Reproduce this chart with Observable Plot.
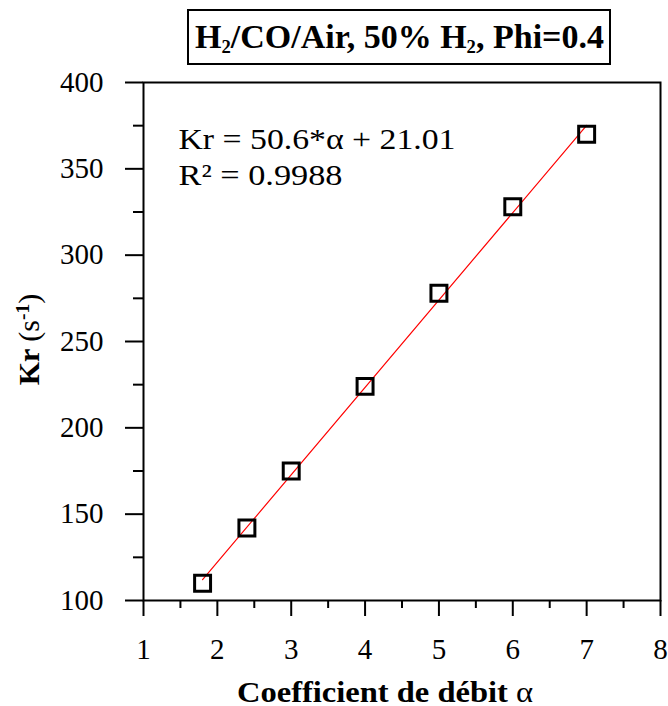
<!DOCTYPE html>
<html>
<head>
<meta charset="utf-8">
<script src="https://cdn.jsdelivr.net/npm/d3@7"></script>
<script src="https://cdn.jsdelivr.net/npm/@observablehq/plot@0.6"></script>
<style>
  body { margin: 0; background: #fff; }
  #wrap { position: relative; width: 668px; height: 706px; background: #fff; }
  #title {
    position: absolute; left: 187px; top: 9px; width: 424px; height: 56px;
    box-sizing: border-box; border: 2px solid #000;
    display: flex; align-items: center; justify-content: center;
    font-family: "Liberation Serif", "Times New Roman", serif; font-weight: bold;
    font-size: 33px; color: #000; white-space: nowrap;
  }
  #title span { display: inline-block; transform-origin: center center; }
  #title sub { font-size: 0.55em; vertical-align: -0.3em; line-height: 0; }
</style>
</head>
<body>
<div id="wrap">
  <div id="chart"></div>
  <div id="title"><span>H<sub>2</sub>/CO/Air, 50% H<sub>2</sub>, Phi=0.4</span></div>
</div>
<script>
// Data
const alpha = [1.8, 2.4, 3, 4, 5, 6, 7];
const kr = [110, 142, 175, 224, 278, 328, 370];

// Linear fit reported on the chart
const fitSlope = 50.6;
const fitIntercept = 21.01;
const fitLabel = "Kr = 50.6*α + 21.01";
const r2Label = "R² = 0.9988";

// Axes
const xTicks = [1, 2, 3, 4, 5, 6, 7, 8];
const xMinorTicks = [1.5, 2.5, 3.5, 4.5, 5.5, 6.5, 7.5];
const yTicks = [100, 150, 200, 250, 300, 350, 400];
const yMinorTicks = [125, 175, 225, 275, 325, 375];
const xLabel = "Coefficient de débit α";
const yLabel = "Kr (s-1)";

const points = alpha.map((a, i) => ({alpha: a, kr: kr[i]}));
const fitRange = [d3.min(alpha), d3.max(alpha)];
const fitLine = fitRange.map(a => ({alpha: a, kr: fitSlope * a + fitIntercept}));

const serif = '"Liberation Serif", "Times New Roman", serif';

const chart = Plot.plot({
  width: 668,
  height: 706,
  marginLeft: 143,
  marginRight: 8,
  marginTop: 82,
  marginBottom: 106,
  x: {domain: [1, 8]},
  y: {domain: [100, 400]},
  style: {fontFamily: serif, fontSize: "29px", color: "#000", background: "#fff"},
  marks: [
    Plot.axisY({ticks: yTicks, tickFormat: d => String(d), tickSize: 18, tickPadding: 22, strokeWidth: 2, label: null, fontSize: 29}),
    Plot.axisY({ticks: yMinorTicks, tickSize: 10, text: null, strokeWidth: 2, label: null}),
    Plot.axisX({ticks: xTicks, tickFormat: d => String(d), tickSize: 16, tickPadding: 22, strokeWidth: 2, label: null, fontSize: 29}),
    Plot.axisX({ticks: xMinorTicks, tickSize: 8, text: null, strokeWidth: 2, label: null}),
    Plot.frame({stroke: "#000", strokeWidth: 2}),
    Plot.line(fitLine, {x: "alpha", y: "kr", stroke: "#ff0000", strokeWidth: 1.2}),
    Plot.dot(points, {x: "alpha", y: "kr", symbol: "square", r: 9, stroke: "#000", strokeWidth: 3, fill: "none"}),
    Plot.text([fitLabel], {frameAnchor: "top-left", dx: 35, dy: 66, lineAnchor: "bottom", textAnchor: "start", fontSize: 30, fill: "#000"}),
    Plot.text([r2Label], {frameAnchor: "top-left", dx: 35, dy: 102, lineAnchor: "bottom", textAnchor: "start", fontSize: 30, fill: "#000"}),
    Plot.text([xLabel], {frameAnchor: "bottom", dx: -17, dy: 101, lineAnchor: "bottom", textAnchor: "middle", fontSize: 30, fontWeight: "bold", fill: "#000"}),
    Plot.text([yLabel], {frameAnchor: "left", dx: -105, dy: -2, rotate: -90, lineAnchor: "bottom", textAnchor: "middle", fontSize: 30, fontWeight: "bold", fill: "#000"})
  ]
});
document.getElementById("chart").appendChild(chart);

// Mixed styling inside labels and horizontal stretch like the reference
const svg = d3.select(chart);
svg.selectAll("text").each(function () {
  const t = d3.select(this);
  const s = this.textContent;
  if (s === xLabel) {
    t.text(null);
    t.append("tspan").text("Coefficient de débit ");
    t.append("tspan").attr("font-weight", "normal").text("α");
    t.attr("textLength", 296).attr("lengthAdjust", "spacingAndGlyphs");
  } else if (s === yLabel) {
    t.text(null);
    t.append("tspan").text("Kr ");
    t.append("tspan").attr("font-weight", "normal").text("(s");
    t.append("tspan").attr("font-size", "0.65em").attr("baseline-shift", "super").text("-1");
    t.append("tspan").attr("font-weight", "normal").text(")");
  } else if (s === fitLabel) {
    t.attr("textLength", 277).attr("lengthAdjust", "spacingAndGlyphs");
  } else if (s === r2Label) {
    t.attr("textLength", 164).attr("lengthAdjust", "spacingAndGlyphs");
  }
});

// Title stretched to the reference width
const tspan = document.querySelector("#title span");
const w = tspan.getBoundingClientRect().width;
tspan.style.transform = `scaleX(${409 / w})`;
</script>
</body>
</html>
